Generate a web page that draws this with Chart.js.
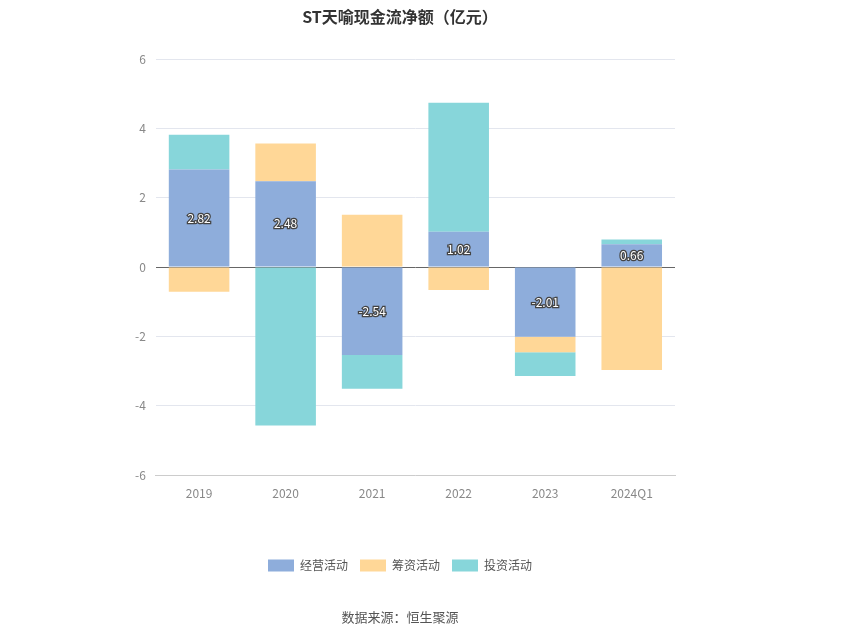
<!DOCTYPE html>
<html><head><meta charset="utf-8">
<script src="https://cdn.jsdelivr.net/npm/chart.js@4"></script>
<style>body{margin:0;background:#fff;font-family:"Noto Sans CJK SC",sans-serif}#wrap{width:850px;height:637px;position:relative}</style>
</head><body><div id="wrap"><canvas id="c"></canvas></div>
<script>
const categories = ['2019', '2020', '2021', '2022', '2023', '2024Q1'];
const operating = [2.82, 2.48, -2.54, 1.02, -2.01, 0.66];
const financing = [-0.71, 1.09, 1.51, -0.66, -0.45, -2.97];
const investing = [1.00, -4.57, -0.97, 3.72, -0.68, 0.14];

const font = '"Noto Sans CJK SC", sans-serif';

const valueLabels = {
  id: 'valueLabels',
  afterDatasetsDraw(chart) {
    const ctx = chart.ctx;
    const meta = chart.getDatasetMeta(0);
    ctx.save();
    ctx.font = '12px ' + font;
    ctx.textAlign = 'center';
    ctx.textBaseline = 'middle';
    ctx.lineWidth = 2.5;
    ctx.strokeStyle = '#444';
    ctx.fillStyle = '#fff';
    meta.data.forEach((bar, i) => {
      const y = (bar.y + bar.base) / 2;
      ctx.strokeText(operating[i].toFixed(2), bar.x, y);
      ctx.fillText(operating[i].toFixed(2), bar.x, y);
    });
    ctx.restore();
  }
};

new Chart(document.getElementById('c'), {
  type: 'bar',
  data: {
    labels: categories,
    datasets: [
      { label: '经营活动', data: operating, backgroundColor: '#8eaddb' },
      { label: '筹资活动', data: financing, backgroundColor: '#ffd797' },
      { label: '投资活动', data: investing, backgroundColor: '#87d6da' },
    ],
  },
  options: {
    responsive: true,
    maintainAspectRatio: false,
    animation: false,
    layout: { padding: { left: 125, right: 175, top: 5, bottom: 8 } },
    datasets: { bar: { categoryPercentage: 0.7, barPercentage: 1 } },
    scales: {
      x: {
        stacked: true,
        grid: { display: false },
        border: { color: '#ccc' },
        ticks: { color: '#888', font: { size: 12, family: font } },
        afterFit: (s) => { s.height += 44; },
      },
      y: {
        stacked: true,
        min: -6, max: 6,
        ticks: { stepSize: 2, color: '#888', padding: 10, font: { size: 12, family: font } },
        grid: {
          color: (c) => c.tick.value === 0 ? '#666' : '#e3e6ee',
          drawTicks: false,
        },
        border: { display: false },
      },
    },
    plugins: {
      title: {
        display: true,
        text: 'ST天喻现金流净额（亿元）',
        color: '#333',
        font: { size: 16, weight: 'bold', family: font },
        padding: { top: 2, bottom: 33 },
      },
      legend: {
        position: 'bottom',
        labels: { color: '#555', boxWidth: 26, boxHeight: 12, padding: 12, font: { size: 12, family: font } },
      },
      subtitle: {
        display: true,
        position: 'bottom',
        text: '数据来源：恒生聚源',
        color: '#555',
        font: { size: 13, family: font },
        padding: { top: 28, bottom: 4 },
      },
      tooltip: { enabled: false },
    },
  },
  plugins: [valueLabels],
});
</script></body></html>
